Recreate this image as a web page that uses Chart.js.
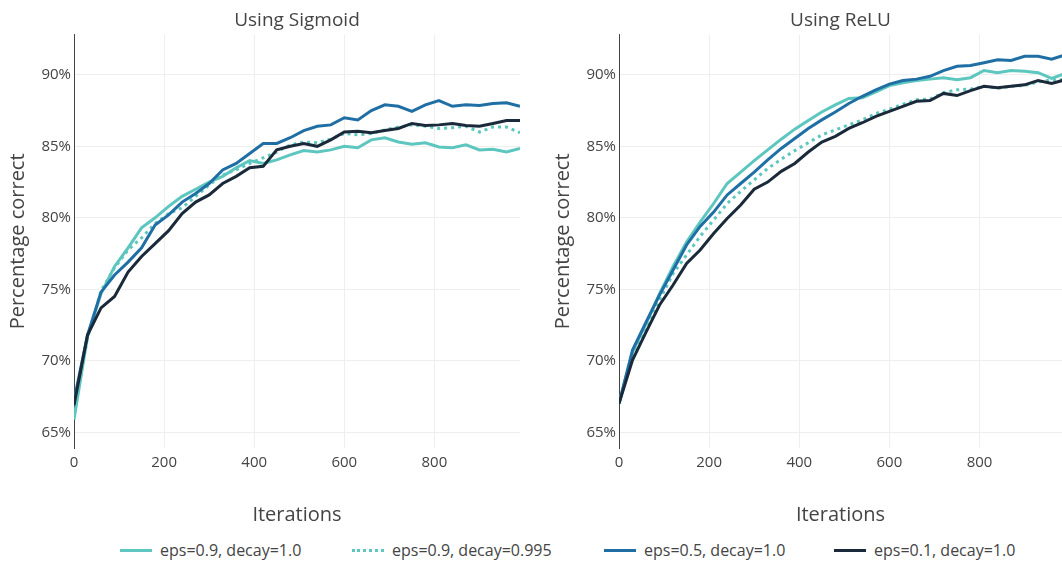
<!DOCTYPE html>
<html lang="en">
<head>
    <meta charset="UTF-8">
    <title>Sigmoid vs ReLU</title>
    <script src="https://cdn.jsdelivr.net/npm/chart.js"></script>
    <style>
        body { margin: 0; width: 1062px; height: 563px; overflow: hidden; background: #fff; font-family: "Open Sans", sans-serif; }
        canvas { position: absolute; top: 0; }
        #legend { position: absolute; left: 0; top: 0; font-size: 16px; color: #444; }
        .item { position: absolute; top: 539px; display: flex; align-items: center; white-space: nowrap; height: 22px; }
        .swatch { width: 32px; height: 0; margin-right: 8px; }
    </style>
</head>
<body>
<canvas id="sigmoid" width="545" height="530" style="left:0"></canvas>
<canvas id="relu" width="517" height="530" style="left:545px"></canvas>
<div id="legend"></div>
<script>
    const iteracje = [0, 30, 60, 90, 120, 150, 180, 210, 240, 270, 300, 330, 360, 390, 420, 450, 480,
        510, 540, 570, 600, 630, 660, 690, 720, 750, 780, 810, 840, 870, 900, 930, 960, 990];

    const nazwy = ['eps=0.9, decay=1.0', 'eps=0.9, decay=0.995', 'eps=0.5, decay=1.0', 'eps=0.1, decay=1.0'];
    const kolory = ['#5cc6bf', '#5cc6bf', '#1f6fa5', '#1b2a3a'];
    const yTicks = [65, 70, 75, 80, 85, 90];
    const xTicks = [0, 200, 400, 600, 800];

    // Using Sigmoid
    const sigEps09 = [65.9, 71.7, 74.7, 76.6, 77.9, 79.3, 80.0, 80.8, 81.5, 82.0, 82.5, 82.9, 83.5, 84.0, 83.8, 84.05, 84.4,
        84.7, 84.6, 84.75, 85.0, 84.9, 85.45, 85.6, 85.3, 85.15, 85.25, 84.95, 84.9, 85.1, 84.75, 84.8, 84.6, 84.85];
    const sigEps09d = [66.5, 71.6, 74.9, 76.5, 77.75, 78.6, 79.6, 80.3, 80.7, 81.5, 82.3, 83.0, 83.35, 83.8, 84.2, 84.6, 85.1,
        85.3, 85.25, 85.5, 85.9, 85.8, 85.9, 86.15, 86.35, 86.5, 86.4, 86.25, 86.3, 86.4, 86.0, 86.35, 86.35, 85.95];
    const sigEps05 = [67.2, 71.8, 74.8, 76.0, 76.9, 77.9, 79.5, 80.2, 81.1, 81.7, 82.4, 83.35, 83.8, 84.5, 85.2, 85.2, 85.6,
        86.1, 86.4, 86.5, 87.0, 86.85, 87.5, 87.9, 87.8, 87.45, 87.9, 88.2, 87.8, 87.9, 87.85, 88.0, 88.05, 87.8];
    const sigEps01 = [66.9, 71.8, 73.7, 74.5, 76.2, 77.3, 78.2, 79.1, 80.3, 81.1, 81.6, 82.4, 82.9, 83.5, 83.6, 84.75, 85.0,
        85.2, 85.0, 85.45, 86.0, 86.05, 85.95, 86.1, 86.25, 86.6, 86.45, 86.5, 86.6, 86.45, 86.4, 86.6, 86.8, 86.8];

    // Using ReLU
    const reluEps09 = [67.0, 70.6, 72.6, 74.7, 76.6, 78.3, 79.7, 81.0, 82.4, 83.2, 84.0, 84.75, 85.5, 86.2, 86.8, 87.4, 87.9,
        88.35, 88.4, 88.8, 89.25, 89.45, 89.6, 89.7, 89.8, 89.65, 89.8, 90.3, 90.15, 90.3, 90.25, 90.15, 89.75, 90.1];
    const reluEps09d = [67.0, 70.5, 72.4, 74.25, 76.1, 77.4, 78.7, 79.85, 81.0, 81.85, 82.65, 83.45, 84.1, 84.7, 85.25, 85.8, 86.15,
        86.5, 86.85, 87.3, 87.6, 87.95, 88.25, 88.3, 88.75, 88.95, 89.0, 89.2, 89.05, 89.2, 89.25, 89.5, 89.65, 89.65];
    const reluEps05 = [67.0, 70.75, 72.7, 74.6, 76.35, 78.1, 79.4, 80.4, 81.6, 82.4, 83.2, 84.05, 84.85, 85.55, 86.25, 86.85, 87.4,
        88.0, 88.5, 88.95, 89.35, 89.6, 89.7, 89.9, 90.3, 90.6, 90.65, 90.85, 91.05, 91.0, 91.3, 91.3, 91.1, 91.4];
    const reluEps01 = [67.0, 70.05, 72.0, 73.9, 75.3, 76.8, 77.75, 78.9, 79.95, 80.9, 82.0, 82.5, 83.25, 83.8, 84.6, 85.3, 85.7,
        86.25, 86.65, 87.1, 87.45, 87.8, 88.15, 88.2, 88.7, 88.55, 88.9, 89.2, 89.1, 89.2, 89.3, 89.6, 89.4, 89.65];

    const tekst = '#444';
    const font = 'Open Sans';

    function zbiory(serie) {
        return serie.map((wartosci, i) => ({
            label: nazwy[i],
            data: iteracje.map((x, j) => ({ x: x, y: wartosci[j] })),
            borderColor: kolory[i],
            borderWidth: 3,
            borderDash: i === 1 ? [3, 4] : [],
            pointRadius: 0,
            tension: 0,
            fill: false,
            order: 3 - i
        }));
    }

    function wykres(id, tytul, serie, xMax, prawy) {
        new Chart(document.getElementById(id), {
            type: 'line',
            data: { datasets: zbiory(serie) },
            options: {
                responsive: false,
                animation: false,
                layout: { padding: { left: 0, right: prawy, top: 0, bottom: 0 } },
                plugins: {
                    legend: { display: false },
                    tooltip: { enabled: false },
                    title: {
                        display: true,
                        text: tytul,
                        fullSize: false,
                        color: tekst,
                        font: { family: font, size: 19, weight: 'normal' },
                        padding: { top: 9, bottom: 3 }
                    }
                },
                scales: {
                    x: {
                        type: 'linear',
                        min: 0,
                        max: xMax,
                        afterBuildTicks: s => { s.ticks = xTicks.map(v => ({ value: v })); },
                        afterFit: s => { s.height = 82; },
                        grid: { color: '#eeeeee', drawTicks: false },
                        border: { display: false },
                        ticks: { color: tekst, font: { family: font, size: 15 }, padding: 6, maxRotation: 0 },
                        title: {
                            display: true,
                            text: 'Iterations',
                            color: tekst,
                            font: { family: font, size: 20 },
                            padding: { top: 0, bottom: 3 }
                        }
                    },
                    y: {
                        min: 63.9,
                        max: 92.8,
                        afterBuildTicks: s => { s.ticks = yTicks.map(v => ({ value: v })); },
                        afterFit: s => { s.width = 74; },
                        grid: { color: '#eeeeee', drawTicks: false },
                        border: { display: true, color: '#444', width: 1 },
                        ticks: { color: tekst, font: { family: font, size: 15 }, padding: 3, callback: v => v + '%' },
                        title: {
                            display: true,
                            text: 'Percentage correct',
                            color: tekst,
                            font: { family: font, size: 20 },
                            padding: { top: 6, bottom: 0 }
                        }
                    }
                }
            }
        });
    }

    wykres('sigmoid', 'Using Sigmoid', [sigEps09, sigEps09d, sigEps05, sigEps01], 990, 25);
    wykres('relu', 'Using ReLU', [reluEps09, reluEps09d, reluEps05, reluEps01], 983, 0);

    const legenda = document.getElementById('legend');
    const legendaX = [120, 352, 604, 834];
    nazwy.forEach((nazwa, i) => {
        const el = document.createElement('div');
        el.className = 'item';
        el.style.left = legendaX[i] + 'px';
        const styl = i === 1 ? 'dotted' : 'solid';
        el.innerHTML = `<span class="swatch" style="border-top:3px ${styl} ${kolory[i]}"></span><span>${nazwa}</span>`;
        legenda.appendChild(el);
    });
</script>
</body>
</html>
